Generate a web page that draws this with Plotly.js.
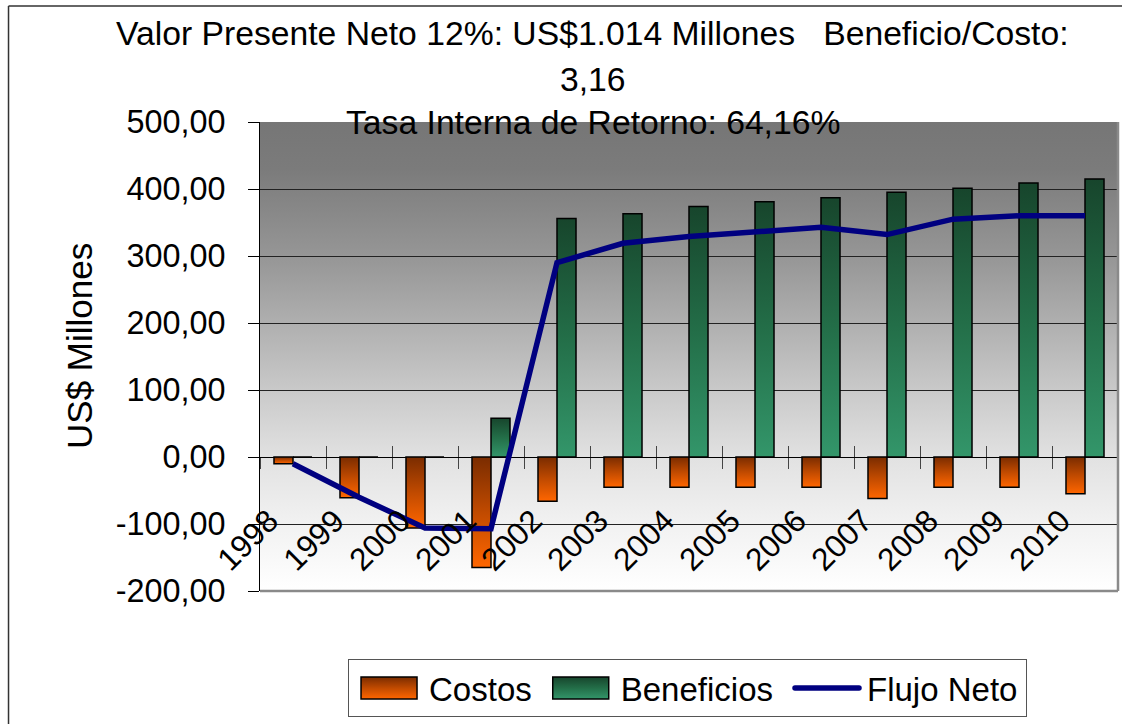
<!DOCTYPE html>
<html>
<head>
<meta charset="utf-8">
<script src="https://cdn.plot.ly/plotly-3.0.1.min.js"></script>
<style>
  html, body { margin: 0; padding: 0; background: #ffffff; }
  #chart { width: 1122px; height: 724px; }
</style>
</head>
<body>
<div id="chart"></div>
<script>
// ---- data ----
var years = ['1998','1999','2000','2001','2002','2003','2004','2005','2006','2007','2008','2009','2010'];
var costos = [-10, -61, -106, -165, -66, -45, -45, -45, -45, -62, -45, -45, -55];
var beneficios = [0, 0, 0, 58, 356, 363, 374, 381, 387, 395, 401, 409, 415];
var flujoNeto = [-10, -60, -106, -107, 290, 319, 329, 336, 343, 332, 355, 360, 360];
var yTickVals = [-200, -100, 0, 100, 200, 300, 400, 500];
var yTickText = ['-200,00', '-100,00', '0,00', '100,00', '200,00', '300,00', '400,00', '500,00'];
var titleLines = [
  'Valor Presente Neto 12%: US$1.014 Millones&nbsp;&nbsp; Beneficio/Costo:',
  '3,16',
  'Tasa Interna de Retorno: 64,16%'
];
var yTitle = 'US$ Millones';

var FONT = 'Liberation Sans, Arial, sans-serif';
var zeroPos = 200 / 700;
var catRange = [-0.5, 12.5];

var traces = [
  { type: 'bar', name: 'Costos', x: years, y: costos,
    marker: { color: '#c04a00', line: { color: '#000000', width: 1.5 } } },
  { type: 'bar', name: 'Beneficios', x: years, y: beneficios,
    marker: { color: '#267a50', line: { color: '#000000', width: 1.5 } } },
  { type: 'scatter', mode: 'lines', name: 'Flujo Neto', x: years, y: flujoNeto,
    xaxis: 'x2', line: { color: '#000080', width: 5.5 } }
];

var layout = {
  width: 1122, height: 724,
  margin: { l: 260, r: 4, t: 122, b: 133 },
  paper_bgcolor: '#ffffff',
  plot_bgcolor: '#cccccc',
  font: { family: FONT, color: '#000000', size: 31 },
  barmode: 'group', bargap: 0.424, bargroupgap: 0,
  separators: ',.',
  showlegend: true,
  legend: {
    orientation: 'h', x: 0.1026, y: -0.145, xanchor: 'left', yanchor: 'top',
    bgcolor: '#ffffff', bordercolor: '#555555', borderwidth: 1,
    font: { family: FONT, size: 33 }, itemwidth: 70, traceorder: 'normal'
  },
  xaxis: {
    type: 'category', range: catRange, anchor: 'free', position: zeroPos,
    showgrid: false, zeroline: false, showline: false,
    ticks: 'outside', ticklen: 11, tickwidth: 1, tickcolor: '#444444',
    tickson: 'boundaries', tickangle: -45,
    ticklabelstandoff: 38, ticklabelshift: -24,
    tickfont: { family: FONT, size: 31.5 }
  },
  xaxis2: {
    type: 'category', range: catRange, overlaying: 'x', anchor: 'free', position: zeroPos,
    showgrid: false, zeroline: false, showline: false, showticklabels: false,
    ticks: 'inside', ticklen: 11, tickwidth: 1, tickcolor: '#444444',
    tickson: 'boundaries'
  },
  yaxis: {
    range: [-200, 500], tickmode: 'array', tickvals: yTickVals, ticktext: yTickText,
    showgrid: true, gridcolor: '#222222', gridwidth: 1,
    zeroline: true, zerolinecolor: '#000000', zerolinewidth: 1,
    showline: true, linecolor: '#000000', linewidth: 1,
    ticks: 'outside', ticklen: 11, tickcolor: '#000000',
    ticklabelstandoff: 16,
    tickfont: { family: FONT, size: 32.4 }
  },
  annotations: [
    { text: titleLines[0], xref: 'paper', yref: 'paper', x: 0.388, y: 1.1898,
      xanchor: 'center', yanchor: 'middle', showarrow: false, font: { family: FONT, size: 33.7 } },
    { text: titleLines[1], xref: 'paper', yref: 'paper', x: 0.388, y: 1.0917,
      xanchor: 'center', yanchor: 'middle', showarrow: false, font: { family: FONT, size: 33.7 } },
    { text: titleLines[2], xref: 'paper', yref: 'paper', x: 0.388, y: 0.9990,
      xanchor: 'center', yanchor: 'middle', showarrow: false, font: { family: FONT, size: 33.7 } },
    { text: yTitle, xref: 'paper', yref: 'paper', x: -0.2098, y: 0.5224, textangle: -90,
      xanchor: 'center', yanchor: 'middle', showarrow: false, font: { family: FONT, size: 35 } }
  ],
  shapes: [
    { type: 'line', xref: 'paper', yref: 'paper', x0: -0.2931, x1: 1.01, y0: 1.2473, y1: 1.2473,
      line: { color: '#333333', width: 1.5 }, layer: 'above' },
    { type: 'line', xref: 'paper', yref: 'paper', x0: -0.2931, x1: -0.2931, y0: 1.2473, y1: -0.3,
      line: { color: '#333333', width: 1.5 }, layer: 'above' },
    { type: 'line', xref: 'paper', yref: 'paper', x0: 0, x1: 1, y0: 0, y1: 0,
      line: { color: '#8a8a8a', width: 2.5 }, layer: 'above' },
    { type: 'line', xref: 'paper', yref: 'paper', x0: 1, x1: 1, y0: 0, y1: 1,
      line: { color: '#8a8a8a', width: 2.5 }, layer: 'above' }
  ]
};

function shiftTranslate(el, dx) {
  var tr = el.getAttribute('transform') || '';
  var m = tr.match(/translate\(\s*([-\d.e]+)[ ,]+([-\d.e]+)\s*\)/);
  if (m) {
    el.setAttribute('transform', tr.replace(m[0],
      'translate(' + (parseFloat(m[1]) + dx) + ',' + m[2] + ')'));
  }
}

function applyGradients(gd) {
  var NS = 'http://www.w3.org/2000/svg';
  var svg = gd.querySelector('svg.main-svg');
  var defs = svg.querySelector('defs');
  function grad(id, stops) {
    if (document.getElementById(id)) return;
    var g = document.createElementNS(NS, 'linearGradient');
    g.setAttribute('id', id);
    g.setAttribute('x1', '0'); g.setAttribute('y1', '0');
    g.setAttribute('x2', '0'); g.setAttribute('y2', '1');
    stops.forEach(function (s) {
      var st = document.createElementNS(NS, 'stop');
      st.setAttribute('offset', s[0]); st.setAttribute('stop-color', s[1]);
      g.appendChild(st);
    });
    defs.appendChild(g);
  }
  grad('gBg', [['0', '#767676'], ['0.1', '#7b7b7b'], ['0.3', '#989898'], ['0.45', '#b3b3b3'],
               ['0.6', '#cecece'], ['0.72', '#e2e2e2'], ['0.86', '#f2f2f2'], ['1', '#ffffff']]);
  grad('gC', [['0', '#7a2c00'], ['0.5', '#c04a00'], ['1', '#ff6600']]);
  grad('gB', [['0', '#17452c'], ['0.5', '#236e48'], ['1', '#33966a']]);

  svg.querySelectorAll('.bglayer rect.bg').forEach(function (r) { r.style.fill = 'url(#gBg)'; });
  var barTraces = svg.querySelectorAll('.barlayer .trace');
  if (barTraces[0]) barTraces[0].querySelectorAll('path').forEach(function (p) { p.style.fill = 'url(#gC)'; });
  if (barTraces[1]) barTraces[1].querySelectorAll('path').forEach(function (p) { p.style.fill = 'url(#gB)'; });

  // legend swatches: wider rectangles like the original
  var legTraces = gd.querySelectorAll('.legend .traces');
  [['gC', 0], ['gB', 1]].forEach(function (pair) {
    var t = legTraces[pair[1]];
    if (!t) return;
    t.querySelectorAll('.legendpoints path').forEach(function (p) {
      p.setAttribute('d', 'M28,11H-28V-11H28Z');
      p.style.fill = 'url(#' + pair[0] + ')';
      p.style.stroke = '#000000';
      p.style.strokeWidth = '1.5px';
    });
  });
  if (legTraces[2]) {
    legTraces[2].querySelectorAll('.legendlines path').forEach(function (p) {
      p.setAttribute('d', 'M8,0h64');
      p.style.strokeLinecap = 'round';
    });
  }
  // slightly wider spacing between legend entries, as in the original
  if (legTraces[1]) shiftTranslate(legTraces[1], 4);
  if (legTraces[2]) shiftTranslate(legTraces[2], 13);
  var lbg = gd.querySelector('.legend rect.bg');
  if (lbg) lbg.setAttribute('width', parseFloat(lbg.getAttribute('width')) + 16);
  gd.querySelectorAll('.legend .scrollbox, .legend [clip-path]').forEach(function (el) {
    el.removeAttribute('clip-path');
  });
}

var gd = document.getElementById('chart');
Plotly.newPlot(gd, traces, layout, { staticPlot: true, displayModeBar: false }).then(function () {
  applyGradients(gd);
});
</script>
</body>
</html>
